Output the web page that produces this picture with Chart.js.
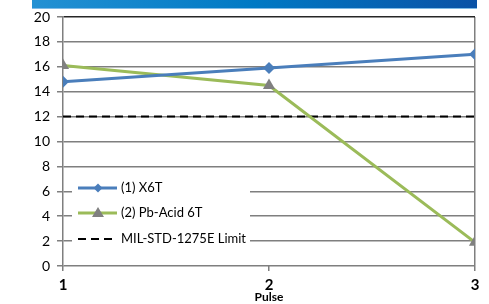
<!DOCTYPE html>
<html><head><meta charset="utf-8">
<script src="https://cdn.jsdelivr.net/npm/chart.js@4/dist/chart.umd.min.js"></script>
<style>html,body{margin:0;padding:0;background:#fff}#wrap{width:489px;height:304px;position:relative}</style>
</head><body><div id="wrap"><canvas id="c" width="489" height="304"></canvas></div>
<script>
const pulses = [1, 2, 3];
const x6t = [14.8, 15.9, 17.0];
const pbAcid = [16.1, 14.5, 1.9];
const limitValue = 12;
const yTicks = [0, 2, 4, 6, 8, 10, 12, 14, 16, 18, 20];
const seriesNames = ['(1) X6T', '(2) Pb-Acid 6T', 'MIL-STD-1275E Limit'];
const xTitle = 'Pulse';

const toPts = (vals) => pulses.map((p, i) => ({x: p, y: vals[i]}));

const banner = {
  id: 'banner',
  beforeDraw(chart) {
    const c = chart.ctx;
    const g = c.createLinearGradient(32, 0, 477, 0);
    g.addColorStop(0, '#2491d3');
    g.addColorStop(0.5, '#0079c4');
    g.addColorStop(1, '#0a52a6');
    c.save();
    c.fillStyle = g;
    c.fillRect(32, 0, 445, 9);
    c.fillStyle = '#7fbbe6';
    c.fillRect(32, 8, 445, 1);
    c.restore();
  }
};

const boxLegend = {
  id: 'boxLegend',
  afterDraw(chart) {
    const c = chart.ctx;
    c.save();
    c.fillStyle = '#fff';
    c.fillRect(72, 173, 178, 76);
    const rows = [188, 213, 239];
    chart.data.datasets.forEach((ds, i) => {
      const y = rows[i];
      c.strokeStyle = ds.borderColor;
      c.lineWidth = ds.borderWidth;
      c.setLineDash(ds.borderDash || []);
      c.beginPath(); c.moveTo(78, y); c.lineTo(117, y); c.stroke();
      c.setLineDash([]);
      if (ds.pointStyle === 'rectRot') {
        c.fillStyle = ds.pointBackgroundColor;
        c.beginPath(); c.moveTo(98, y - 4.5); c.lineTo(102.5, y); c.lineTo(98, y + 4.5); c.lineTo(93.5, y); c.closePath(); c.fill();
      } else if (ds.pointStyle === 'triangle') {
        c.fillStyle = ds.pointBackgroundColor;
        c.beginPath(); c.moveTo(98, y - 6); c.lineTo(104, y + 4); c.lineTo(92, y + 4); c.closePath(); c.fill();
      }
      c.fillStyle = '#000';
      c.font = '13px Lato, "Open Sans", sans-serif';
      c.textBaseline = 'middle';
      c.fillText(ds.label, 121, y);
    });
    c.restore();
  }
};

new Chart(document.getElementById('c'), {
  type: 'line',
  data: {
    datasets: [
      {label: seriesNames[0], data: toPts(x6t), borderColor: '#4a7ebb', borderWidth: 3,
       pointStyle: 'rectRot', pointRadius: 6, pointBackgroundColor: '#4a7ebb', pointBorderColor: '#4a7ebb', pointBorderWidth: 0},
      {label: seriesNames[1], data: toPts(pbAcid), borderColor: '#9bbb59', borderWidth: 3,
       pointStyle: 'triangle', pointRadius: 7, pointBackgroundColor: '#808080', pointBorderColor: '#808080', pointBorderWidth: 0},
      {label: seriesNames[2], data: toPts(pulses.map(() => limitValue)), borderColor: '#000', borderWidth: 2,
       borderDash: [8, 5], pointRadius: 0}
    ]
  },
  options: {
    responsive: false, animation: false,
    layout: {padding: {top: 17, right: 14, left: 0, bottom: 0}},
    plugins: {legend: {display: false}, tooltip: {enabled: false}},
    scales: {
      x: {
        type: 'linear', min: 1, max: 3,
        afterFit(s) { s.height = 38; },
        afterBuildTicks(s) { s.ticks = pulses.map(v => ({value: v})); },
        grid: {drawOnChartArea: true, color: (ctx) => ctx.tick && ctx.tick.value === 3 ? '#7f7f7f' : 'rgba(0,0,0,0)',
               tickColor: '#7f7f7f', lineWidth: 1.5, tickLength: 5},
        border: {display: false},
        ticks: {color: '#000', font: {family: 'Lato, "Open Sans", sans-serif', size: 15, weight: 'bold'}, padding: 5, maxRotation: 0},
        title: {display: true, text: xTitle, color: '#000', font: {family: 'Lato, "Open Sans", sans-serif', size: 12, weight: 'bold'}, padding: {top: -4, bottom: 0}}
      },
      y: {
        min: 0, max: 20,
        afterFit(s) { s.width = 63; },
        afterBuildTicks(s) { s.ticks = yTicks.map(v => ({value: v})); },
        grid: {color: (ctx) => ctx.tick && ctx.tick.value === 20 ? '#262626' : '#7f7f7f', tickColor: '#7f7f7f', lineWidth: 1.5, tickLength: 6},
        border: {display: true, color: '#7f7f7f', width: 1.5},
        ticks: {color: '#000', font: {family: 'Lato, "Open Sans", sans-serif', size: 14}, padding: 7}
      }
    }
  },
  plugins: [banner, boxLegend]
});
</script></body></html>
